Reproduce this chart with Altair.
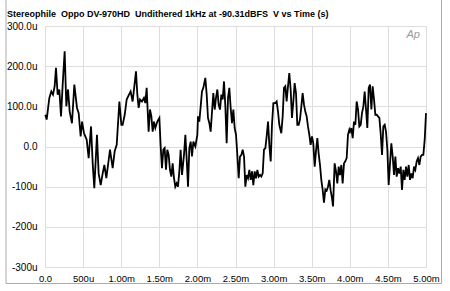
import altair as alt
import pandas as pd

# Time in ms, voltage in microvolts
t_ms = [
    0.004, 0.022, 0.057, 0.083, 0.105, 0.127, 0.144, 0.166, 0.188, 0.210, 0.232, 0.258, 0.280, 0.302,
    0.324, 0.354, 0.385, 0.420, 0.442, 0.468, 0.486, 0.512, 0.529, 0.547, 0.573, 0.604, 0.626, 0.647,
    0.682, 0.704, 0.731, 0.757, 0.779, 0.805, 0.836, 0.853, 0.888, 0.914, 0.941, 0.976, 1.002,
    1.019, 1.046, 1.072, 1.102, 1.124, 1.150, 1.177, 1.194, 1.212, 1.229, 1.247, 1.273, 1.299, 1.317,
    1.334, 1.360, 1.378, 1.396, 1.413, 1.430, 1.448, 1.474, 1.501, 1.518, 1.535, 1.553, 1.570, 1.588,
    1.605, 1.623, 1.640, 1.658, 1.675, 1.693, 1.710, 1.728, 1.745, 1.763, 1.780, 1.798, 1.824, 1.842,
    1.860, 1.877, 1.894, 1.912, 1.929, 1.947, 1.973, 1.999,
    2.008, 2.025, 2.043, 2.060, 2.078, 2.104, 2.122, 2.139, 2.157, 2.174, 2.192, 2.209, 2.227, 2.244,
    2.262, 2.279, 2.297, 2.314, 2.332, 2.349, 2.367, 2.384, 2.402, 2.419, 2.437, 2.454, 2.472, 2.489,
    2.507, 2.524, 2.542, 2.559, 2.577, 2.594, 2.612, 2.629, 2.647, 2.664, 2.682, 2.699, 2.717, 2.734,
    2.752, 2.769, 2.787, 2.804, 2.822, 2.839, 2.857, 2.874, 2.892, 2.909, 2.927, 2.944, 2.962, 2.979,
    2.997,
    3.023, 3.040, 3.058, 3.075, 3.101, 3.119, 3.136, 3.154, 3.171, 3.189, 3.206, 3.224, 3.241, 3.259,
    3.276, 3.294, 3.311, 3.329, 3.346, 3.364, 3.381, 3.399, 3.416, 3.434, 3.451, 3.469, 3.486, 3.504,
    3.521, 3.539, 3.556, 3.574, 3.591, 3.609, 3.626, 3.644, 3.661, 3.679, 3.696, 3.714, 3.731, 3.749,
    3.766, 3.780, 3.801, 3.819, 3.836, 3.854, 3.871, 3.889, 3.906, 3.924, 3.941, 3.959, 3.976, 3.994,
    4.003, 4.020, 4.038, 4.055, 4.073, 4.090, 4.108, 4.125, 4.143, 4.160, 4.178, 4.195, 4.213, 4.230,
    4.248, 4.265, 4.283, 4.300, 4.318, 4.335, 4.353, 4.370, 4.388, 4.405, 4.423, 4.440, 4.458, 4.475,
    4.493, 4.510, 4.528, 4.545, 4.563, 4.580, 4.598, 4.615, 4.633, 4.650, 4.668, 4.685, 4.703, 4.720,
    4.738, 4.755, 4.773, 4.790, 4.808, 4.825, 4.843, 4.860, 4.878, 4.895, 4.913, 4.930, 4.948, 4.965,
    4.983, 5.000,
]
v_u = [
    79, 67, 121, 137, 129, 150, 196, 129, 142, 75, 154, 237, 100, 142,
    87, 58, 154, 96, 83, 25, 62, 33, 25, 17, -29, 50, -42, -104,
    29, -67, -96, -67, -46, -79, -33, -8, -54, -12, 4, 112, 54,
    54, 79, 117, 129, 137, 112, 158, 187, 129, 96, 117, 112, 121, 108,
    146, 37, 92, 75, 37, 62, 46, 62, 71, 0, -54, -8, -4, -58,
    -8, -21, -58, -75, -42, -79, -100, -92, -100, -62, -8, -71, -21, 29,
    -33, -100, -4, 12, -25, 12, 0, 29,
    75, 62, 100, 137, 146, 171, 129, 71, 58, 37, 87, 133, 92, 121,
    142, 104, 92, 129, 117, 162, 100, 8, 121, 146, 96, 58, 92, 46,
    29, -21, -79, -25, -21, -8, -25, -100, -71, -79, -58, -83, -62, -96,
    -62, -79, -58, -75, -71, -75, -67, -8, -4, 25, 62, 4, -37, 54,
    108,
    108, 112, 87, 54, 33, 75, 146, 150, 112, 150, 183, 142, 71, 112,
    158, 133, 54, 54, 67, 100, 133, 104, 87, 75, 50, 29, 4, 25,
    8, -50, -12, 21, -17, -46, -83, -108, -140, -107, -110, -100, -83, -110,
    -128, -149, -42, -62, -92, -50, -71, -46, -92, -42, -37, -29, 29, 42,
    37, 46, 21, 62, 54, 112, 92, 50, 54, 83, 100, 137, 92, 46,
    146, 154, 92, 150, 117, 79, 79, 75, 71, 33, -21, 50, 54, 37,
    -8, -96, -42, 8, -25, -71, -25, -75, -54, -67, -50, -108, -58, -83,
    -50, -75, -46, -83, -67, -79, -50, -58, -37, -29, -46, -25, -21, -21,
    17, 83,
]

x_ticks = [0, 0.5, 1.0, 1.5, 2.0, 2.5, 3.0, 3.5, 4.0, 4.5, 5.0]
x_labels = ["0.0", "500u", "1.00m", "1.50m", "2.00m", "2.50m", "3.00m", "3.50m", "4.00m", "4.50m", "5.00m"]
y_ticks = [300, 200, 100, 0, -100, -200, -300]
y_labels = ["300.0u", "200.0u", "100.0u", "0.0", "-100u", "-200u", "-300u"]

# double spaces kept with no-break spaces so SVG does not collapse them
title_text = ["Stereophile\u00a0 Oppo DV-970HD\u00a0 Undithered 1kHz at -90.31dBFS\u00a0 V vs Time (s)"]
logo_text = ["Ap"]


def label_expr(ticks, labels):
    expr = "''"
    for tk, lb in reversed(list(zip(ticks, labels))):
        expr = f"abs(datum.value - ({tk})) < 1e-6 ? '{lb}' : ({expr})"
    return expr


FONT = "Liberation Sans, Arial, Helvetica"

df = pd.DataFrame({"t": t_ms, "v": v_u})

line = alt.Chart(df).mark_line(color="black", strokeWidth=1.8, strokeJoin="miter").encode(
    x=alt.X(
        "t:Q",
        scale=alt.Scale(domain=[0, 5], nice=False),
        axis=alt.Axis(
            values=x_ticks,
            labelExpr=label_expr(x_ticks, x_labels),
            title=None,
            grid=True,
            ticks=False,
            domain=False,
            labelPadding=6,
            labelFontSize=9.5,
            labelFlush=False,
            labelOverlap=False,
        ),
    ),
    y=alt.Y(
        "v:Q",
        scale=alt.Scale(domain=[-300, 300], nice=False),
        axis=alt.Axis(
            values=y_ticks,
            labelExpr=label_expr(y_ticks, y_labels),
            title=None,
            grid=True,
            ticks=False,
            domain=False,
            labelPadding=8,
            labelFontSize=10,
            labelFlush=False,
            labelOverlap=False,
        ),
    ),
)

title = alt.Chart(pd.DataFrame({"label": title_text})).mark_text(
    align="left", baseline="alphabetic", fontSize=9, fontWeight="bold",
    color="black", font=FONT,
).encode(text="label:N", x=alt.value(-38), y=alt.value(-9.5))

logo = alt.Chart(pd.DataFrame({"label": logo_text})).mark_text(
    align="right", baseline="alphabetic", fontStyle="italic", fontSize=11,
    color="#9a9a9a", font=FONT,
).encode(text="label:N", x=alt.value(375), y=alt.value(12))

frame = alt.Chart(pd.DataFrame({"label": ["frame"]})).mark_rect(
    fill=None, stroke="#aaaaaa", strokeWidth=1,
).encode(x=alt.value(-39), x2=alt.value(396.5), y=alt.value(-40), y2=alt.value(257.5))

chart = alt.layer(frame, line, title, logo).properties(
    width=381,
    height=241,
    padding={"left": 45, "top": 26, "right": 24, "bottom": 24},
    autosize=alt.AutoSizeParams(type="none"),
).configure_view(stroke="#aaaaaa", strokeWidth=1).configure_axis(
    gridColor="#8f8f8f", gridWidth=1, gridOpacity=1,
    labelFont=FONT, labelFontWeight="bold", labelColor="black",
).configure(background="white")

chart.save("out.html", embed_options={"renderer": "svg", "actions": False})
